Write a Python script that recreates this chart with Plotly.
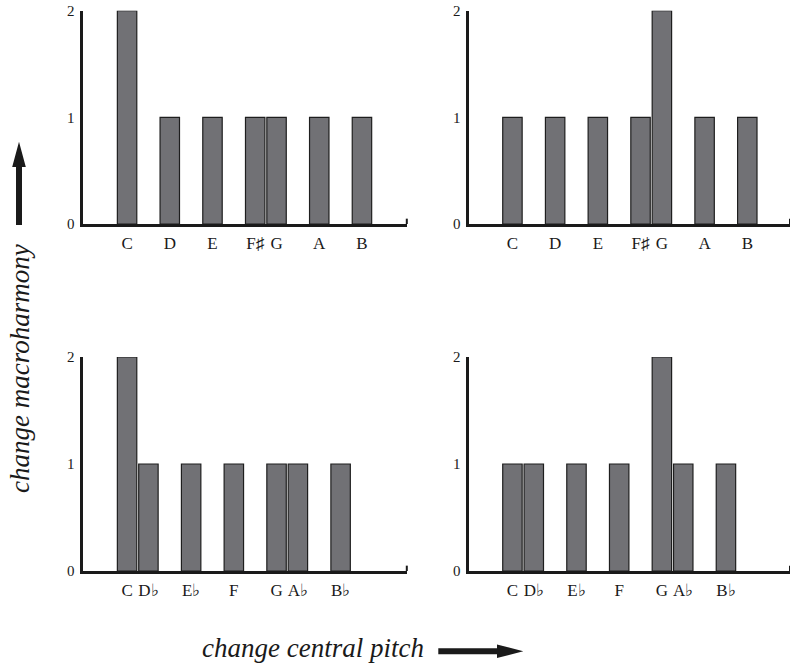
import plotly.graph_objects as go

# ---- data ----
sharp_labels = ["C", "D", "E", "F\u266f", "G", "A", "B"]
sharp_positions = [0, 2, 4, 6, 7, 9, 11]
flat_labels = ["C", "D\u266d", "E\u266d", "F", "G", "A\u266d", "B\u266d"]
flat_positions = [0, 1, 3, 5, 7, 8, 10]
top_left_values = [2, 1, 1, 1, 1, 1, 1]
top_right_values = [1, 1, 1, 1, 2, 1, 1]
bottom_left_values = [2, 1, 1, 1, 1, 1, 1]
bottom_right_values = [1, 1, 1, 1, 2, 1, 1]
y_ticks = [0, 1, 2]

W, H = 790, 667
BAR_FILL = "#717175"
BAR_LINE = "#1e1e1e"
AXIS_COLOR = "#1a1a1a"
SERIF = "Liberation Serif, Times New Roman, serif"


def px_x(p):
    return p / W


def px_y(p):
    return 1 - p / H


panels = [
    # (suffix, positions, labels, values, x-domain px, y-domain px, x-range)
    ("", sharp_positions, sharp_labels, top_left_values, (83.3, 406.8), (10.7, 224.0), [-2.05, 13.1]),
    ("2", sharp_positions, sharp_labels, top_right_values, (469.3, 790.0), (10.7, 224.0), [-2.02, 13.0]),
    ("3", flat_positions, flat_labels, bottom_left_values, (83.3, 406.8), (357.0, 571.0), [-2.05, 13.1]),
    ("4", flat_positions, flat_labels, bottom_right_values, (469.3, 790.0), (357.0, 571.0), [-2.02, 13.0]),
]

fig = go.Figure()
layout = dict(
    width=W,
    height=H,
    margin=dict(l=0, r=0, t=0, b=0, pad=0, autoexpand=False),
    paper_bgcolor="white",
    plot_bgcolor="white",
    showlegend=False,
    font=dict(family=SERIF, color="#1a1a1a"),
)

shapes = []
for suffix, pos, labels, vals, xd, yd, xr in panels:
    xa = "x" + suffix
    ya = "y" + suffix
    fig.add_trace(
        go.Bar(
            x=pos,
            y=vals,
            width=0.91,
            marker=dict(color=BAR_FILL, line=dict(color=BAR_LINE, width=1.2)),
            xaxis=xa,
            yaxis=ya,
            hoverinfo="skip",
        )
    )
    layout["xaxis" + suffix] = dict(
        domain=[px_x(xd[0]), px_x(xd[1])],
        range=xr,
        anchor=ya,
        automargin=False,
        showgrid=False,
        zeroline=False,
        showline=True,
        linecolor=AXIS_COLOR,
        linewidth=2.5,
        ticks="",
        tickvals=pos,
        ticktext=labels,
        tickfont=dict(family=SERIF, size=17, color="#1a1a1a"),
        ticklabelstandoff=2,
        fixedrange=True,
    )
    layout["yaxis" + suffix] = dict(
        domain=[px_y(yd[1]), px_y(yd[0])],
        range=[0, 2],
        anchor=xa,
        automargin=False,
        showgrid=False,
        zeroline=False,
        showline=True,
        linecolor=AXIS_COLOR,
        linewidth=2.5,
        ticks="",
        tickvals=y_ticks,
        tickfont=dict(family=SERIF, size=15, color="#1a1a1a"),
        ticklabelstandoff=3,
        fixedrange=True,
    )
    # small end tick at the right end of the x axis
    shapes.append(
        dict(
            type="line",
            xref=xa + " domain",
            yref=ya + " domain",
            x0=1, x1=1, y0=0, y1=0.025,
            line=dict(color=AXIS_COLOR, width=2),
        )
    )

# up arrow (left side)
cx, tip, head_base, tail = 19.0, 141.7, 167.0, 225.0
up_path = "M {} {} L {} {} L {} {} L {} {} L {} {} L {} {} L {} {} Z".format(
    px_x(cx - 3), px_y(tail),
    px_x(cx - 3), px_y(head_base),
    px_x(cx - 6.8), px_y(head_base),
    px_x(cx), px_y(tip),
    px_x(cx + 6.8), px_y(head_base),
    px_x(cx + 3), px_y(head_base),
    px_x(cx + 3), px_y(tail),
)
shapes.append(dict(type="path", xref="paper", yref="paper", path=up_path,
                   fillcolor="#1a1a1a", line=dict(width=0)))

# right arrow (bottom)
cy, x_tail, x_head, x_tip = 651.3, 438.3, 497.0, 523.3
right_path = "M {} {} L {} {} L {} {} L {} {} L {} {} L {} {} L {} {} Z".format(
    px_x(x_tail), px_y(cy - 3),
    px_x(x_head), px_y(cy - 3),
    px_x(x_head), px_y(cy - 6.8),
    px_x(x_tip), px_y(cy),
    px_x(x_head), px_y(cy + 6.8),
    px_x(x_head), px_y(cy + 3),
    px_x(x_tail), px_y(cy + 3),
)
shapes.append(dict(type="path", xref="paper", yref="paper", path=right_path,
                   fillcolor="#1a1a1a", line=dict(width=0)))

layout["shapes"] = shapes
layout["annotations"] = [
    dict(
        text="<i>change macroharmony</i>",
        x=px_x(19.5), y=px_y(368.5),
        xref="paper", yref="paper",
        xanchor="center", yanchor="middle",
        textangle=-90,
        showarrow=False,
        font=dict(family=SERIF, size=27, color="#1a1a1a"),
    ),
    dict(
        text="<i>change central pitch</i>",
        x=px_x(313), y=px_y(648.0),
        xref="paper", yref="paper",
        xanchor="center", yanchor="middle",
        showarrow=False,
        font=dict(family=SERIF, size=27, color="#1a1a1a"),
    ),
]

fig.update_layout(**layout)
fig.write_html(
    "out.html",
    config={"displayModeBar": False},
    post_script="document.body.style.margin='0';document.body.style.overflow='hidden';",
)
